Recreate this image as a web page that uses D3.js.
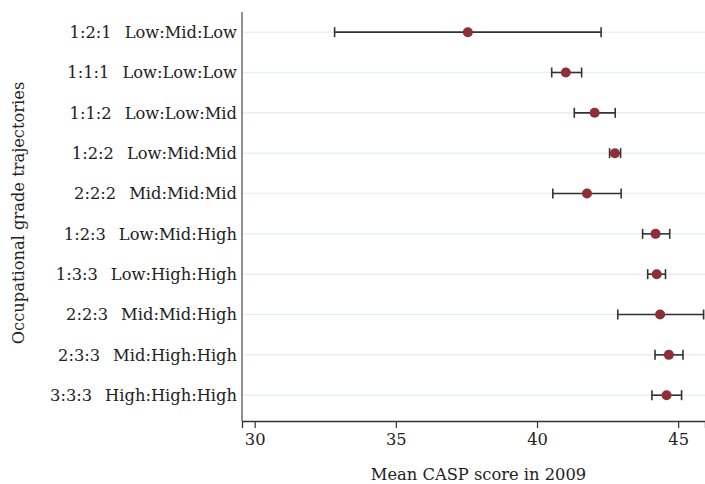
<!DOCTYPE html>
<html>
<head>
<meta charset="utf-8">
<script src="https://cdn.jsdelivr.net/npm/d3@7"></script>
<style>
  body { margin: 0; background: #fff; }
  text { font-family: "DejaVu Serif", serif; fill: #222; }
</style>
</head>
<body>
<svg class="plotSVG" width="705" height="484"></svg>
<script>
// trajectory codes and labels, top to bottom
const codes = ['1:2:1', '1:1:1', '1:1:2', '1:2:2', '2:2:2', '1:2:3', '1:3:3', '2:2:3', '2:3:3', '3:3:3'];
const names = ['Low:Mid:Low', 'Low:Low:Low', 'Low:Low:Mid', 'Low:Mid:Mid', 'Mid:Mid:Mid',
  'Low:Mid:High', 'Low:High:High', 'Mid:Mid:High', 'Mid:High:High', 'High:High:High'];
// mean CASP score and 95% CI
const means = [37.55, 41.02, 42.04, 42.76, 41.77, 44.20, 44.24, 44.36, 44.67, 44.59];
const lower = [32.83, 40.52, 41.32, 42.57, 40.56, 43.74, 43.92, 42.86, 44.18, 44.07];
const upper = [42.27, 41.58, 42.77, 42.96, 42.98, 44.70, 44.55, 45.90, 45.17, 45.12];
const xTicks = [30, 35, 40, 45];

const data = codes.map((c, i) => ({
  pos: i + 1, code: c, name: names[i], mean: means[i], lo: lower[i], hi: upper[i]
}));

const margin = {l: 242, r: 0, t: 12, b: 63};
const width = 705, height = 484;
const dotColor = '#8e2f36';
const fontSize = 16.3;
const svg = d3.select('.plotSVG');

const scaleX = d3.scaleLinear()
  .domain([29.55, 45.95])
  .range([margin.l, width - margin.r]);
const scaleY = d3.scaleLinear()
  .domain([0.5, 10.64])
  .range([margin.t, height - margin.b]);

// gridlines
svg.append('g').selectAll('line')
  .data(data)
  .enter().append('line')
  .attr('x1', margin.l).attr('x2', width)
  .attr('y1', d => scaleY(d.pos)).attr('y2', d => scaleY(d.pos))
  .attr('stroke', '#eaf0f2')
  .attr('stroke-width', 1.5);

// x axis
const xAxis = svg.append('g')
  .attr('transform', `translate(0, ${height - margin.b})`)
  .call(d3.axisBottom(scaleX).tickValues(xTicks).tickSize(7).tickPadding(5));
xAxis.attr('font-family', null);
xAxis.select('.domain').attr('stroke', '#333').attr('stroke-width', 1.3);
xAxis.selectAll('.tick line').attr('stroke', '#333').attr('stroke-width', 1.2);
xAxis.selectAll('.tick text').attr('font-size', fontSize).attr('fill', '#222');

// y axis line
svg.append('line')
  .attr('x1', margin.l).attr('x2', margin.l)
  .attr('y1', margin.t).attr('y2', height - margin.b)
  .attr('stroke', '#555').attr('stroke-width', 1.3);

// y labels: code, then the named trajectory
const yLab = svg.append('g').selectAll('text')
  .data(data)
  .enter().append('text')
  .attr('x', margin.l - 5)
  .attr('y', d => scaleY(d.pos))
  .attr('dy', '0.35em')
  .attr('text-anchor', 'end')
  .attr('font-size', fontSize);
yLab.append('tspan').text(d => d.code);
yLab.append('tspan').attr('dx', 13).text(d => d.name);

// error bars
const bars = svg.append('g').selectAll('g')
  .data(data)
  .enter().append('g')
  .attr('stroke', '#333')
  .attr('stroke-width', 1.6);
bars.append('line')
  .attr('x1', d => scaleX(d.lo)).attr('x2', d => scaleX(d.hi))
  .attr('y1', d => scaleY(d.pos)).attr('y2', d => scaleY(d.pos));
bars.append('line')
  .attr('x1', d => scaleX(d.lo)).attr('x2', d => scaleX(d.lo))
  .attr('y1', d => scaleY(d.pos) - 5).attr('y2', d => scaleY(d.pos) + 5);
bars.append('line')
  .attr('x1', d => scaleX(d.hi)).attr('x2', d => scaleX(d.hi))
  .attr('y1', d => scaleY(d.pos) - 5).attr('y2', d => scaleY(d.pos) + 5);

// points
svg.append('g').selectAll('circle')
  .data(data)
  .enter().append('circle')
  .attr('cx', d => scaleX(d.mean))
  .attr('cy', d => scaleY(d.pos))
  .attr('r', 5)
  .attr('fill', dotColor);

// axis titles
svg.append('text')
  .attr('x', (margin.l + width) / 2 + 5)
  .attr('y', 480)
  .attr('text-anchor', 'middle')
  .attr('font-size', fontSize)
  .text('Mean CASP score in 2009');

svg.append('text')
  .attr('transform', 'rotate(-90)')
  .attr('x', -213)
  .attr('y', 24)
  .attr('text-anchor', 'middle')
  .attr('font-size', fontSize)
  .text('Occupational grade trajectories');
</script>
</body>
</html>
